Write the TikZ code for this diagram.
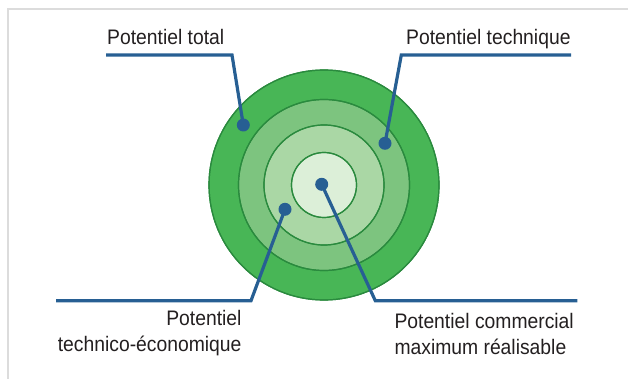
\documentclass[tikz,border=0pt]{standalone}
\usepackage{fontspec}
\setmainfont{Liberation Sans}[FakeStretch=0.92]

\definecolor{leaderblue}{RGB}{39,95,147}
\definecolor{ringA}{RGB}{72,182,86}
\definecolor{ringB}{RGB}{125,196,127}
\definecolor{ringC}{RGB}{170,215,165}
\definecolor{ringD}{RGB}{220,239,216}
\definecolor{ringedge}{RGB}{42,138,62}
\definecolor{labelgray}{RGB}{35,31,32}
\definecolor{framegray}{RGB}{220,220,220}

\tikzset{
  leader/.style={leaderblue, line width=3.2pt, line join=miter},
  pin/.style={circle, fill=leaderblue, inner sep=0pt, minimum size=13pt},
  lbl/.style={labelgray, inner sep=0pt, font=\fontsize{21}{26}\selectfont},
  ring/.style={draw=ringedge, line width=1.2pt}
}

\begin{document}
\begin{tikzpicture}[x=1pt, y=-1pt]
\useasboundingbox (0,0) rectangle (628,379);

% Frame
\draw[framegray, line width=2pt] (628,9) -- (7.8,9) -- (7.8,379);

% Rings
\fill[ring, fill=ringA] (324,185) circle (115);
\fill[ring, fill=ringB] (324,185) circle (85.5);
\fill[ring, fill=ringC] (324,185) circle (60);
\fill[ring, fill=ringD] (324,185) circle (32.5);
\draw[ring] (324,185) circle (115);
\draw[ring] (324,185) circle (85.5);
\draw[ring] (324,185) circle (60);
\draw[ring] (324,185) circle (32.5);

% Pins
\node[pin] (ptotal) at (243.3,125) {};
\node[pin] (ptech) at (385,143.3) {};
\node[pin] (peco) at (285,209.3) {};
\node[pin] (pcomm) at (321.7,184.3) {};

% Leader lines
\coordinate (ltotal) at (106,55);
\coordinate (ktotal) at (232,55);
\coordinate (ltech) at (571,55);
\coordinate (ktech) at (401.3,55);
\coordinate (leco) at (56,300.7);
\coordinate (keco) at (251,300.7);
\coordinate (lcomm) at (577.3,300.7);
\coordinate (kcomm) at (375.3,300.7);
\draw[leader] (ltotal) -- (ktotal) -- (ptotal.center);
\draw[leader] (ltech) -- (ktech) -- (ptech.center);
\draw[leader] (leco) -- (keco) -- (peco.center);
\draw[leader] (lcomm) -- (kcomm) -- (pcomm.center);

% Labels
\node[lbl, anchor=base west] (ttotal) at (107,45) {Potentiel total};
\node[lbl, anchor=base west] (ttech) at (406,45) {Potentiel technique};
\node[lbl, anchor=base east, align=right] (teco) at (241.7,351.7) {Potentiel\\technico-économique};
\node[lbl, anchor=base west, align=left] (tcomm) at (394.3,354) {Potentiel commercial\\maximum réalisable};
\end{tikzpicture}
\end{document}
